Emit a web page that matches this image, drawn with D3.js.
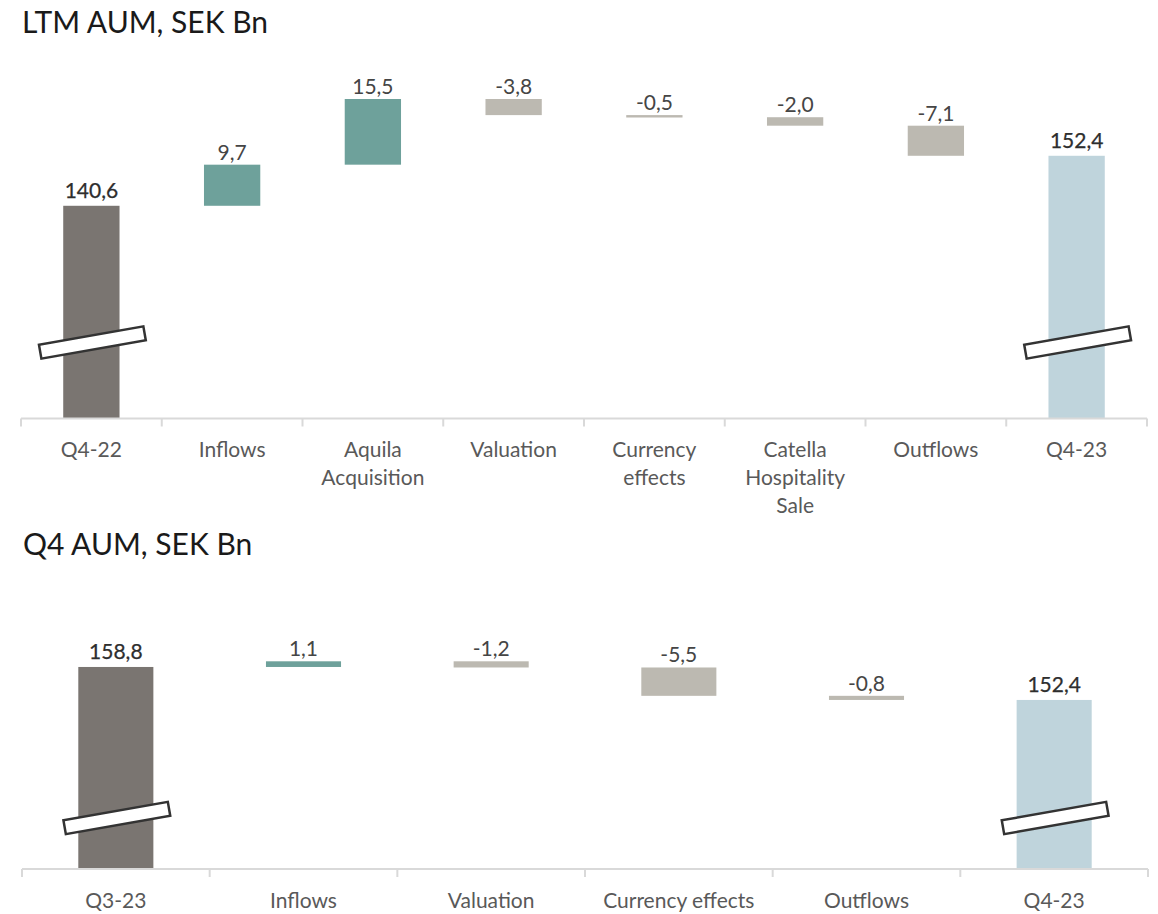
<!DOCTYPE html>
<html>
<head>
<meta charset="utf-8">
<script src="https://cdn.jsdelivr.net/npm/d3@7/dist/d3.min.js"></script>
<style>
  html, body { margin: 0; padding: 0; background: #ffffff; }
  svg { display: block; font-family: Lato, "Open Sans", sans-serif; }
</style>
</head>
<body>
<svg id="chart" width="1158" height="914"></svg>
<script>
// LTM bridge
const ltmTitle = "LTM AUM, SEK Bn";
const ltmCategories = ["Q4-22", "Inflows", "Aquila\nAcquisition", "Valuation", "Currency\neffects", "Catella\nHospitality\nSale", "Outflows", "Q4-23"];
const ltmValues = [140.6, 9.7, 15.5, -3.8, -0.5, -2.0, -7.1, 152.4];
const ltmKinds = ["start", "delta", "delta", "delta", "delta", "delta", "delta", "end"];

// Quarter bridge
const q4Title = "Q4 AUM, SEK Bn";
const q4Categories = ["Q3-23", "Inflows", "Valuation", "Currency effects", "Outflows", "Q4-23"];
const q4Values = [158.8, 1.1, -1.2, -5.5, -0.8, 152.4];
const q4Kinds = ["start", "delta", "delta", "delta", "delta", "end"];

const colors = { start: "#7a7571", end: "#bfd4dc", up: "#6ea19b", down: "#bcb9b1" };

const sv = d3.formatLocale({ decimal: ",", thousands: " ", grouping: [3], currency: ["", " kr"], minus: "-" });
const fmt = sv.format(".1f");

const svg = d3.select("#chart");

function drawBridge(cfg) {
  const g = svg.append("g");

  // title
  g.append("text")
    .attr("x", cfg.left + 1)
    .attr("y", cfg.titleY)
    .attr("font-size", 30)
    .attr("fill", "#1a1a1a")
    .text(cfg.title);

  // running totals
  let run = 0;
  const rows = cfg.values.map((v, i) => {
    const kind = cfg.kinds[i];
    let y0, y1, type;
    if (kind === "start" || kind === "end") {
      y0 = cfg.axisMin; y1 = v; run = v; type = kind;
    } else {
      y0 = run; y1 = run + v; run = y1; type = v >= 0 ? "up" : "down";
    }
    return { cat: cfg.categories[i], value: v, kind, type, y0, y1 };
  });

  const x = d3.scaleBand()
    .domain(cfg.categories)
    .range([cfg.left, cfg.right])
    .paddingInner(0).paddingOuter(0);

  const maxVal = d3.max(rows, r => Math.max(r.y0, r.y1));
  const y = d3.scaleLinear()
    .domain([cfg.axisMin, maxVal])
    .range([cfg.baseline, cfg.top]);

  const bw = x.bandwidth() * 0.4;
  const cx = c => x(c) + x.bandwidth() / 2;

  // bars
  g.append("g").selectAll("rect")
    .data(rows)
    .join("rect")
    .attr("x", d => cx(d.cat) - bw / 2)
    .attr("width", bw)
    .attr("y", d => y(Math.max(d.y0, d.y1)))
    .attr("height", d => Math.max(2.4, Math.abs(y(d.y0) - y(d.y1))))
    .attr("fill", d => colors[d.type]);

  // value labels
  g.append("g").selectAll("text")
    .data(rows)
    .join("text")
    .attr("x", d => cx(d.cat))
    .attr("y", d => y(Math.max(d.y0, d.y1)) - (d.kind === "delta" ? 5 : 8))
    .attr("text-anchor", "middle")
    .attr("font-size", 21)
    .attr("fill", d => d.kind === "delta" ? "#454545" : "#2e2e2e")
    .attr("stroke", d => d.kind === "delta" ? "none" : "#2e2e2e")
    .attr("stroke-width", 0.25)
    .text(d => fmt(d.value));

  // axis break symbols on the total bars
  g.append("g").selectAll("rect")
    .data(rows.filter(r => r.kind !== "delta"))
    .join("rect")
    .attr("x", -53)
    .attr("y", -7)
    .attr("width", 106)
    .attr("height", 14)
    .attr("fill", "#ffffff")
    .attr("stroke", "#333333")
    .attr("stroke-width", 2.5)
    .attr("transform", d => `translate(${cx(d.cat) + 1},${cfg.baseline - cfg.breakOffset}) rotate(-10)`);

  // category axis: baseline with ticks at band edges
  const edges = cfg.categories.map(c => x(c)).concat([cfg.right]);
  const axis = g.append("g").attr("stroke", "#d9d9d9").attr("stroke-width", 2);
  axis.append("line")
    .attr("x1", cfg.left).attr("x2", cfg.right)
    .attr("y1", cfg.baseline).attr("y2", cfg.baseline);
  axis.selectAll("line.tick")
    .data(edges)
    .join("line")
    .attr("class", "tick")
    .attr("x1", d => d).attr("x2", d => d)
    .attr("y1", cfg.baseline).attr("y2", cfg.baseline + 8);

  // category labels
  const labels = g.append("g").selectAll("text")
    .data(cfg.categories)
    .join("text")
    .attr("text-anchor", "middle")
    .attr("font-size", 21)
    .attr("fill", "#595959")
    .attr("y", cfg.baseline + cfg.labelDy);
  labels.selectAll("tspan")
    .data(d => d.split("\n").map((t, i) => ({ t, i, c: d })))
    .join("tspan")
    .attr("x", d => cx(d.c))
    .attr("dy", d => d.i === 0 ? 0 : 28)
    .text(d => d.t);
}

drawBridge({
  title: ltmTitle, categories: ltmCategories, values: ltmValues, kinds: ltmKinds,
  left: 21, right: 1147, titleY: 33,
  baseline: 418.5, top: 99, axisMin: 90.4,
  breakOffset: 76, labelDy: 38.5
});

drawBridge({
  title: q4Title, categories: q4Categories, values: q4Values, kinds: q4Kinds,
  left: 22, right: 1148, titleY: 555,
  baseline: 869, top: 661.3, axisMin: 119.6,
  breakOffset: 51, labelDy: 39
});
</script>
</body>
</html>
